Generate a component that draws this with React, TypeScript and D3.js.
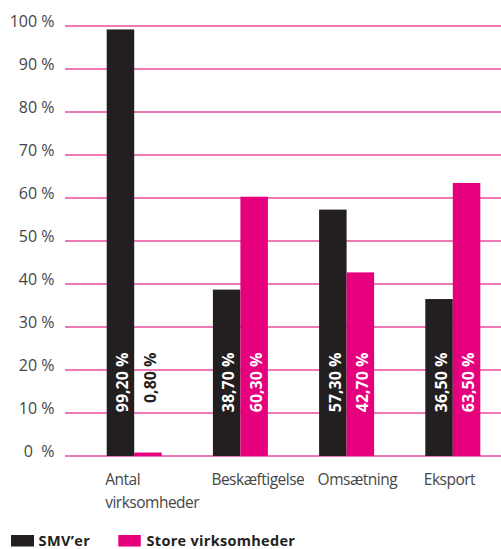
import React from "react";
import * as d3 from "d3";

const categories = [["Antal", "virksomheder"], ["Beskæftigelse"], ["Omsætning"], ["Eksport"]];
const categoryKeys = ["Antal virksomheder", "Beskæftigelse", "Omsætning", "Eksport"];
const smvValues = [99.2, 38.7, 57.3, 36.5];
const storeValues = [0.8, 60.3, 42.7, 63.5];
const smvLabels = ["99,20 %", "38,70 %", "57,30 %", "36,50 %"];
const storeLabels = ["0,80 %", "60,30 %", "42,70 %", "63,50 %"];
const yTicks = [0, 10, 20, 30, 40, 50, 60, 70, 80, 90, 100];
const yTickLabels = ["0\u00a0\u00a0%", "10 %", "20 %", "30 %", "40 %", "50 %", "60 %", "70 %", "80 %", "90 %", "100 %"];
const seriesNames = ["SMV\u2019er", "Store virksomheder"];

const BLACK = "#231f20";
const PINK = "#e6007e";
const GRID = "#ea4c9e";
const TEXT = "#464646";
const FONT = "'Open Sans', 'Noto Sans', sans-serif";

export default function App() {
  const W = 501;
  const H = 549;
  const y = d3.scaleLinear().domain([0, 100]).range([456, 26]);
  const step = 106.2;
  const bw = 55;
  const x0 = 81.1;
  const x = d3
    .scaleBand<string>()
    .domain(categoryKeys)
    .range([x0, x0 + step * 4])
    .paddingInner((step - bw) / step)
    .paddingOuter((step - bw) / step / 2);
  const xs = d3.scaleBand<string>().domain(["smv", "store"]).range([0, x.bandwidth()]);
  const half = xs.bandwidth();

  return (
    <svg width={W} height={H} style={{ position: "absolute", left: 0, top: 0 }} fontFamily={FONT}>
      <rect width={W} height={H} fill="#fff" />
      {yTicks.map((t, i) => (
        <g key={t}>
          <line x1={65} x2={W} y1={y(t)} y2={y(t)} stroke={GRID} strokeWidth={1.5} />
          <text x={54.5} y={y(t) + 1.2} textAnchor="end" fontSize={16} fill={TEXT}>
            {yTickLabels[i]}
          </text>
        </g>
      ))}
      {categoryKeys.map((c, i) => {
        const bx = x(c)!;
        const sx = bx + xs("smv")!;
        const px = bx + xs("store")!;
        return (
          <g key={c}>
            <rect x={sx} y={y(smvValues[i])} width={half} height={y(0) - y(smvValues[i])} fill={BLACK} />
            <rect x={px} y={y(storeValues[i])} width={half} height={y(0) - y(storeValues[i])} fill={PINK} />
            <text
              transform={`translate(${sx + half / 2 + 7.8},${352.5}) rotate(-90)`}
              textAnchor="end"
              fontSize={16}
              fontWeight="bold"
              fill="#fff"
            >
              {smvLabels[i]}
            </text>
            <text
              transform={`translate(${px + half / 2 + 7.8},${352.5}) rotate(-90)`}
              textAnchor="end"
              fontSize={16}
              fontWeight="bold"
              fill={storeValues[i] < 20 ? BLACK : "#fff"}
            >
              {storeLabels[i]}
            </text>
            {categories[i].map((ln, j) => (
              <text key={j} x={bx - 1.5} y={484.5 + j * 23} fontSize={15.5} letterSpacing={-0.5} fill={TEXT}>
                {ln}
              </text>
            ))}
          </g>
        );
      })}
      <rect x={11} y={535} width={23} height={11.5} fill={BLACK} />
      <text x={38.5} y={545.5} fontSize={14.5} letterSpacing={0.4} fontWeight="bold" fill={BLACK}>
        {seriesNames[0]}
      </text>
      <rect x={118.3} y={535} width={22.5} height={11.5} fill={PINK} />
      <text x={146.5} y={545.5} fontSize={14.5} letterSpacing={0.3} fontWeight="bold" fill={BLACK}>
        {seriesNames[1]}
      </text>
    </svg>
  );
}
